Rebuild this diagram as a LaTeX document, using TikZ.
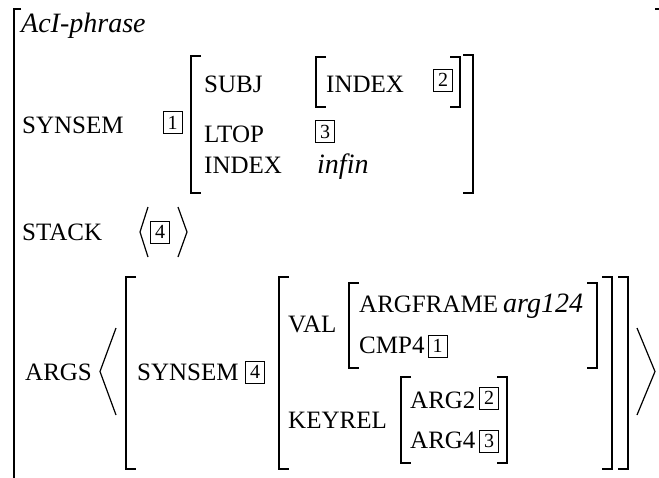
\documentclass[tikz,border=0pt]{standalone}
\usepackage{fontspec}
\setmainfont{Liberation Serif}
\newfontfamily\avmit{Liberation Serif Italic}
\newcommand\avmL[3]{\draw[brk] (#1+10,#2) -- (#1,#2) -- (#1,#3) -- (#1+10,#3);}
\newcommand\avmR[3]{\draw[brk] (#1-10,#2) -- (#1,#2) -- (#1,#3) -- (#1-10,#3);}
\begin{document}
\begin{tikzpicture}[x=1pt,y=-1pt,
  feat/.style={anchor=base west, inner sep=0pt, font=\fontsize{25}{28}\selectfont},
  ival/.style={anchor=base west, inner sep=0pt, font=\avmit\fontsize{28}{32}\selectfont},
  tag/.style={draw, line width=0.8pt, inner sep=0pt, minimum width=19pt, minimum height=22pt, font=\fontsize{20}{22}\selectfont},
  brk/.style={line width=1.8pt, line cap=butt},
  ang/.style={line width=1.2pt, line join=miter}]
\useasboundingbox (0,0) rectangle (659,477);
\clip (0,0) rectangle (659,477);
% outer brackets
\draw[brk] (21,9) -- (14,9) -- (14,490);
\draw[brk] (655,9) -- (663,9) -- (663,490);
% SYNSEM value
\avmL{191}{56}{193}
\avmR{473}{55}{193}
\avmL{316}{57}{107}
\avmR{460}{57}{107}
% ARGS
\avmL{126}{277}{469}
\avmR{628}{277}{469}
\avmL{279}{277}{469}
\avmR{612}{277}{469}
\avmL{349}{283}{368}
\avmR{597}{283}{368}
\avmL{401}{377}{463}
\avmR{507}{377}{463}
% angle brackets
\draw[ang] (148,207) -- (140,232) -- (148,257);
\draw[ang] (178,207) -- (187,232) -- (178,257);
\draw[ang] (116,328) -- (100,371.5) -- (116,415);
\draw[ang] (637,328) -- (655,371.5) -- (637,415);
% texts
\node[ival] (type) at (21,32) {AcI-phrase};
\node[feat] (synsem) at (22,133) {SYNSEM};
\node[tag] (t1a) at (172.5,122.5) {1};
\node[feat] (subj) at (204,92) {SUBJ};
\node[feat] (index1) at (326,92) {INDEX};
\node[tag] (t2a) at (443,80) {2};
\node[feat] (ltop) at (204,142) {LTOP};
\node[tag] (t3a) at (325,131.5) {3};
\node[feat] (index2) at (204,173) {INDEX};
\node[ival] (infin) at (317,173) {infin};
\node[feat] (stack) at (22,240) {STACK};
\node[tag] (t4a) at (160,232) {4};
\node[feat] (args) at (25,380) {ARGS};
\node[feat] (synsem2) at (137,380) {SYNSEM};
\node[tag] (t4b) at (255,372) {4};
\node[feat] (val) at (288,332) {VAL};
\node[feat] (argframe) at (359,312) {ARGFRAME};
\node[ival] (arg124) at (503,312) {arg124};
\node[feat] (cmp4) at (359,353) {CMP4};
\node[tag] (t1b) at (437.5,346) {1};
\node[feat] (keyrel) at (288,428) {KEYREL};
\node[feat] (arg2) at (410,408) {ARG2};
\node[tag] (t2b) at (489,398) {2};
\node[feat] (arg4) at (410,448) {ARG4};
\node[tag] (t3b) at (489,441) {3};
\end{tikzpicture}
\end{document}
